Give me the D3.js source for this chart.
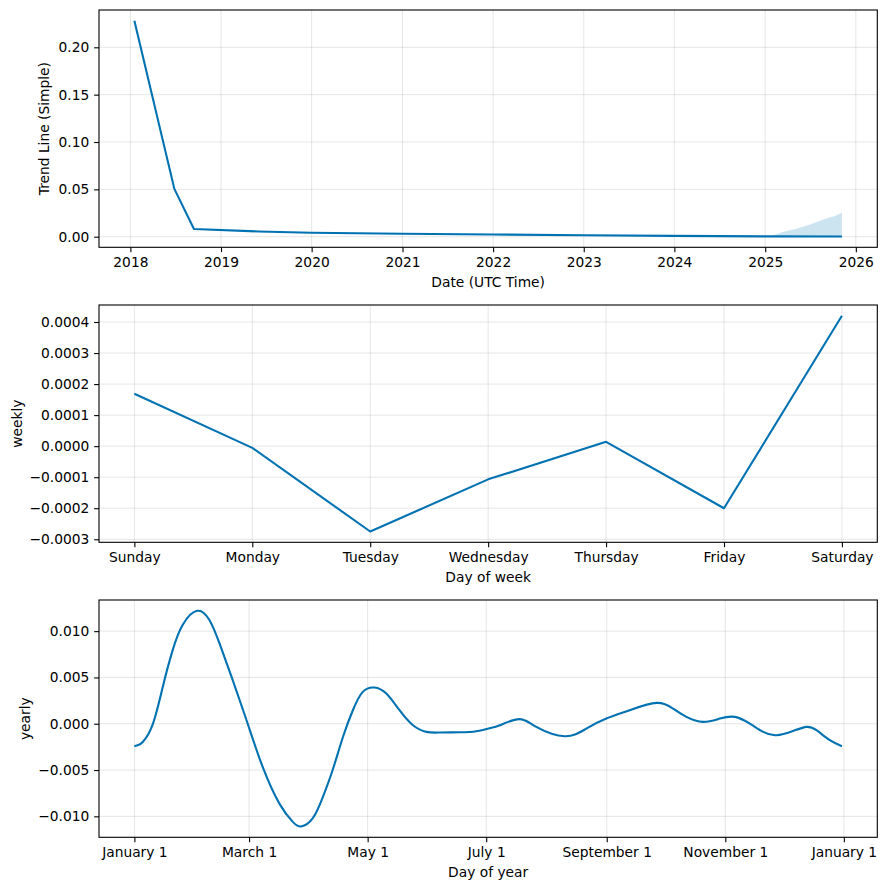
<!DOCTYPE html>
<html>
<head>
<meta charset="utf-8">
<script src="https://cdn.jsdelivr.net/npm/d3@7"></script>
<style>
  html, body { margin: 0; padding: 0; background: #ffffff; }
  svg { display: block; }
  text { font-family: "DejaVu Sans", sans-serif; }
</style>
</head>
<body>
<svg id="chart" width="887" height="890"></svg>
<script>
// ---------- DATA ----------
// Trend component
const trendDates  = ["2018-01-17","2018-06-27","2018-09-14","2019-06-01","2020-01-01","2021-01-01","2022-01-01","2023-01-01","2024-01-01","2025-01-01","2025-11-06"];
const trendValues = [0.228, 0.0505, 0.0082, 0.0055, 0.0041, 0.0031, 0.0023, 0.0016, 0.0009, 0.0003, 0.0002];
// Trend uncertainty band (forecast period)
const bandDates = ["2025-01-19","2025-03-13","2025-05-06","2025-06-28","2025-08-07","2025-09-10","2025-10-07","2025-11-03","2025-11-06"];
const bandUpper = [0.0003, 0.0049, 0.0085, 0.0127, 0.0165, 0.0197, 0.0215, 0.0250, 0.0258];
const bandLower = [0.0003, 0.0002, 0.0002, 0.0002, 0.0002, 0.0002, 0.0002, 0.0002, 0.0002];
const trendYTicks = [0.00, 0.05, 0.10, 0.15, 0.20];
const trendXTicks = [2018, 2019, 2020, 2021, 2022, 2023, 2024, 2025, 2026];

// Weekly component
const weekDays   = ["Sunday","Monday","Tuesday","Wednesday","Thursday","Friday","Saturday"];
const weeklyVals = [0.000169, -0.0000055, -0.000275, -0.000107, 0.000014, -0.000200, 0.000420];
const weeklyYTicks = [-0.0003, -0.0002, -0.0001, 0.0000, 0.0001, 0.0002, 0.0003, 0.0004];

// Yearly component (day of year -> value)
const yearDays = [0, 2, 4.3, 9.4, 14.6, 19.7, 24.9, 32.3, 38.6, 43.8, 50.6, 58.3, 66, 74.6, 81.5, 85.8, 91.8, 97, 102, 107.3, 112.4, 117.5, 123.5, 129.6, 136.4, 143.3, 150.2, 157, 167.3, 175.9, 182.8, 188, 198, 206.8, 221.4, 232.5, 242.8, 254.8, 268.6, 277.1, 284, 292.6, 301.2, 308.9, 316.6, 323.5, 330.3, 338.9, 345.8, 350.9, 357.8, 364];
const yearVals = [-0.00243, -0.0023, -0.00197, -0.0001, 0.00398, 0.00795, 0.0107, 0.0122, 0.0112, 0.00867, 0.0047, 0.0000, -0.00467, -0.00863, -0.0106, -0.0111, -0.0102, -0.0079, -0.0050, -0.00143, 0.00146, 0.00344, 0.00391, 0.00326, 0.00146, -0.00016, -0.00088, -0.00095, -0.00092, -0.00081, -0.00048, -0.00016, 0.00050, -0.00034, -0.00135, -0.00052, 0.00056, 0.00146, 0.00225, 0.00164, 0.00074, 0.0002, 0.00056, 0.00074, 0.00002, -0.00088, -0.00124, -0.00078, -0.00034, -0.0007, -0.00178, -0.00243];
const yearTickDays   = [0, 59, 120, 181, 243, 304, 365];
const yearTickLabels = ["January 1","March 1","May 1","July 1","September 1","November 1","January 1"];
const yearlyYTicks = [-0.010, -0.005, 0.000, 0.005, 0.010];

// ---------- DRAWING ----------
const svg = d3.select("#chart");
svg.append("rect").attr("width", 887).attr("height", 890).attr("fill", "#ffffff");

const LINE = "#0072B2";
const FS = "13.8px";
const left = 99, right = 877.3;
const panels = [
  {top: 10,  bottom: 247.3},
  {top: 305, bottom: 542.3},
  {top: 600, bottom: 837.3}
];
const tickLen = 4.86, tickPad = 4.86;

function pad(ext) {
  const a = +ext[0], b = +ext[1];
  const r = b - a;
  return [a - 0.05 * r, b + 0.05 * r];
}

function drawPanel(p, x, y, xTicks, xFmt, yTicks, yFmt, xLabel, yLabel, yLabelX) {
  const g = svg.append("g");
  // grid
  g.append("g").selectAll("line").data(xTicks).join("line")
    .attr("x1", d => x(d)).attr("x2", d => x(d))
    .attr("y1", p.top).attr("y2", p.bottom)
    .attr("stroke", "#808080").attr("stroke-opacity", 0.2).attr("stroke-width", 1);
  g.append("g").selectAll("line").data(yTicks).join("line")
    .attr("x1", left).attr("x2", right)
    .attr("y1", d => y(d)).attr("y2", d => y(d))
    .attr("stroke", "#808080").attr("stroke-opacity", 0.2).attr("stroke-width", 1);

  const xa = svg.append("g").attr("transform", `translate(0,${p.bottom})`)
    .call(d3.axisBottom(x).tickValues(xTicks).tickFormat(xFmt).tickSize(tickLen).tickPadding(tickPad));
  const ya = svg.append("g").attr("transform", `translate(${left},0)`)
    .call(d3.axisLeft(y).tickValues(yTicks).tickFormat(yFmt).tickSize(tickLen).tickPadding(tickPad));
  [xa, ya].forEach(a => {
    a.select(".domain").remove();
    a.selectAll("line").attr("stroke", "#000").attr("stroke-width", 1.1);
    a.selectAll("text").attr("font-family", "DejaVu Sans").attr("font-size", FS).attr("fill", "#000");
  });
  // frame
  svg.append("rect").attr("x", left).attr("y", p.top)
    .attr("width", right - left).attr("height", p.bottom - p.top)
    .attr("fill", "none").attr("stroke", "#000").attr("stroke-width", 1.1);

  svg.append("text").attr("x", (left + right) / 2).attr("y", p.bottom + 39.5)
    .attr("text-anchor", "middle").attr("font-size", FS).text(xLabel);
  svg.append("text")
    .attr("transform", `translate(${yLabelX},${(p.top + p.bottom) / 2}) rotate(-90)`)
    .attr("text-anchor", "middle").attr("dy", "0.35em").attr("font-size", FS).text(yLabel);
  return g;
}

// ---- Panel 1: trend ----
const parse = d3.utcParse("%Y-%m-%d");
const tDates = trendDates.map(parse);
const bDates = bandDates.map(parse);
const x1 = d3.scaleUtc().domain(pad(d3.extent(tDates)).map(v => new Date(v))).range([left, right]);
const y1 = d3.scaleLinear()
  .domain(pad([Math.min(d3.min(trendValues), d3.min(bandLower)), Math.max(d3.max(trendValues), d3.max(bandUpper))]))
  .range([panels[0].bottom, panels[0].top]);
const yearTickDates = trendXTicks.map(yv => new Date(Date.UTC(yv, 0, 1)));
const g1 = drawPanel(panels[0], x1, y1, yearTickDates, d3.utcFormat("%Y"), trendYTicks, d3.format(".2f"),
  "Date (UTC Time)", "Trend Line (Simple)", 44.5);
const band = bDates.map((d, i) => ({d, lo: bandLower[i], hi: bandUpper[i]}));
g1.append("path").datum(band)
  .attr("d", d3.area().x(d => x1(d.d)).y0(d => y1(d.lo)).y1(d => y1(d.hi)))
  .attr("fill", LINE).attr("fill-opacity", 0.2);
g1.append("path").datum(tDates.map((d, i) => ({d, v: trendValues[i]})))
  .attr("d", d3.line().x(d => x1(d.d)).y(d => y1(d.v)))
  .attr("fill", "none").attr("stroke", LINE).attr("stroke-width", 2.1).attr("stroke-linejoin", "round");

// ---- Panel 2: weekly ----
const x2 = d3.scaleLinear().domain(pad([0, weekDays.length - 1])).range([left, right]);
const y2 = d3.scaleLinear().domain(pad(d3.extent(weeklyVals))).range([panels[1].bottom, panels[1].top]);
const g2 = drawPanel(panels[1], x2, y2, d3.range(weekDays.length), i => weekDays[i], weeklyYTicks, d3.format(".4f"),
  "Day of week", "weekly", 17);
g2.append("path").datum(weeklyVals)
  .attr("d", d3.line().x((d, i) => x2(i)).y(d => y2(d)))
  .attr("fill", "none").attr("stroke", LINE).attr("stroke-width", 2.1).attr("stroke-linejoin", "round");

// ---- Panel 3: yearly ----
const x3 = d3.scaleLinear().domain(pad([0, 364])).range([left, right]);
const y3 = d3.scaleLinear().domain(pad(d3.extent(yearVals))).range([panels[2].bottom, panels[2].top]);
const g3 = drawPanel(panels[2], x3, y3, yearTickDays, (d, i) => yearTickLabels[i], yearlyYTicks, d3.format(".3f"),
  "Day of year", "yearly", 25);
g3.append("path").datum(yearDays.map((d, i) => ({d, v: yearVals[i]})))
  .attr("d", d3.line().x(d => x3(d.d)).y(d => y3(d.v)).curve(d3.curveNatural))
  .attr("fill", "none").attr("stroke", LINE).attr("stroke-width", 2.1).attr("stroke-linejoin", "round");
</script>
</body>
</html>
